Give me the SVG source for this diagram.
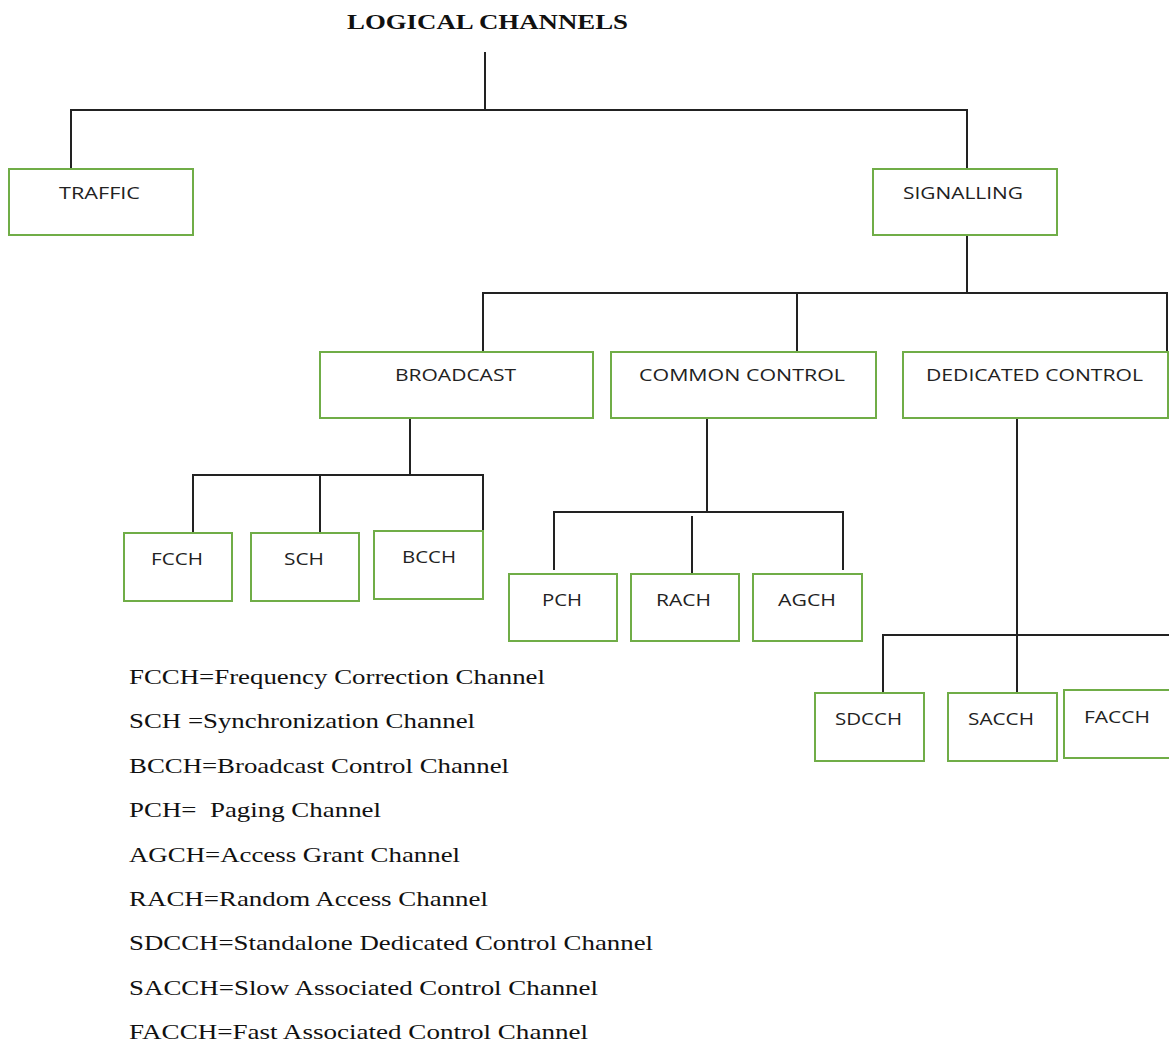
<svg xmlns="http://www.w3.org/2000/svg" width="1169" height="1044" viewBox="0 0 1169 1044">
<style>
.box{fill:#fff;stroke:#70ad47;stroke-width:2}
.lbl{font-family:"Open Sans","Noto Sans",sans-serif;font-size:17px;fill:#222;text-anchor:start}
.ln{stroke:#222;stroke-width:2;fill:none}
.leg{font-family:"Liberation Serif",serif;font-size:21.5px;fill:#111;white-space:pre}
.title{font-family:"Liberation Serif",serif;font-size:22px;font-weight:bold;fill:#111}
</style>
<rect width="1169" height="1044" fill="#fff"/>
<text class="title" x="347" y="29" textLength="281" lengthAdjust="spacingAndGlyphs">LOGICAL CHANNELS</text>
<g id="connectors">
<path class="ln" d="M485 52V110M71 169V110H967V169"/>
<path class="ln" d="M967 235V293M483 352V293H1167V352M797 293V352"/>
<path class="ln" d="M410 418V475M193 533V475H483V531M320 475V533"/>
<path class="ln" d="M707 418V512M554 570V512H843V570M692 516V574"/>
<path class="ln" d="M1017 418V693M883 693V635H1169"/>
</g>
<g id="traffic"><rect class="box" x="9" y="169" width="184" height="66"/><text class="lbl" x="59" y="199" textLength="81" lengthAdjust="spacingAndGlyphs">TRAFFIC</text></g>
<g id="signalling"><rect class="box" x="873" y="169" width="184" height="66"/><text class="lbl" x="903" y="199" textLength="120" lengthAdjust="spacingAndGlyphs">SIGNALLING</text></g>
<g id="broadcast"><rect class="box" x="320" y="352" width="273" height="66"/><text class="lbl" x="395" y="381" textLength="121" lengthAdjust="spacingAndGlyphs">BROADCAST</text></g>
<g id="common"><rect class="box" x="611" y="352" width="265" height="66"/><text class="lbl" x="639" y="381" textLength="206" lengthAdjust="spacingAndGlyphs">COMMON CONTROL</text></g>
<g id="dedicated"><rect class="box" x="903" y="352" width="265" height="66"/><text class="lbl" x="926" y="381" textLength="217" lengthAdjust="spacingAndGlyphs">DEDICATED CONTROL</text></g>
<g id="fcch"><rect class="box" x="124" y="533" width="108" height="68"/><text class="lbl" x="151" y="565" textLength="52" lengthAdjust="spacingAndGlyphs">FCCH</text></g>
<g id="sch"><rect class="box" x="251" y="533" width="108" height="68"/><text class="lbl" x="284" y="565" textLength="40" lengthAdjust="spacingAndGlyphs">SCH</text></g>
<g id="bcch"><rect class="box" x="374" y="531" width="109" height="68"/><text class="lbl" x="402" y="563" textLength="54" lengthAdjust="spacingAndGlyphs">BCCH</text></g>
<g id="pch"><rect class="box" x="509" y="574" width="108" height="67"/><text class="lbl" x="542" y="606" textLength="40" lengthAdjust="spacingAndGlyphs">PCH</text></g>
<g id="rach"><rect class="box" x="631" y="574" width="108" height="67"/><text class="lbl" x="656" y="606" textLength="55" lengthAdjust="spacingAndGlyphs">RACH</text></g>
<g id="agch"><rect class="box" x="753" y="574" width="109" height="67"/><text class="lbl" x="778" y="606" textLength="58" lengthAdjust="spacingAndGlyphs">AGCH</text></g>
<g id="sdcch"><rect class="box" x="815" y="693" width="109" height="68"/><text class="lbl" x="835" y="725" textLength="67" lengthAdjust="spacingAndGlyphs">SDCCH</text></g>
<g id="sacch"><rect class="box" x="948" y="693" width="109" height="68"/><text class="lbl" x="968" y="725" textLength="66" lengthAdjust="spacingAndGlyphs">SACCH</text></g>
<g id="facch"><rect class="box" x="1064" y="690" width="106" height="68"/><text class="lbl" x="1084" y="723" textLength="66" lengthAdjust="spacingAndGlyphs">FACCH</text></g>
<g id="legend">
<text class="leg" x="129" y="684" textLength="416" lengthAdjust="spacingAndGlyphs">FCCH=Frequency Correction Channel</text>
<text class="leg" x="129" y="728" textLength="346" lengthAdjust="spacingAndGlyphs">SCH =Synchronization Channel</text>
<text class="leg" x="129" y="773" textLength="380" lengthAdjust="spacingAndGlyphs">BCCH=Broadcast Control Channel</text>
<text class="leg" x="129" y="817" textLength="252" lengthAdjust="spacingAndGlyphs" xml:space="preserve">PCH=  Paging Channel</text>
<text class="leg" x="129" y="862" textLength="331" lengthAdjust="spacingAndGlyphs">AGCH=Access Grant Channel</text>
<text class="leg" x="129" y="906" textLength="359" lengthAdjust="spacingAndGlyphs">RACH=Random Access Channel</text>
<text class="leg" x="129" y="950" textLength="524" lengthAdjust="spacingAndGlyphs">SDCCH=Standalone Dedicated Control Channel</text>
<text class="leg" x="129" y="995" textLength="469" lengthAdjust="spacingAndGlyphs">SACCH=Slow Associated Control Channel</text>
<text class="leg" x="129" y="1039" textLength="459" lengthAdjust="spacingAndGlyphs">FACCH=Fast Associated Control Channel</text>
</g>
</svg>
